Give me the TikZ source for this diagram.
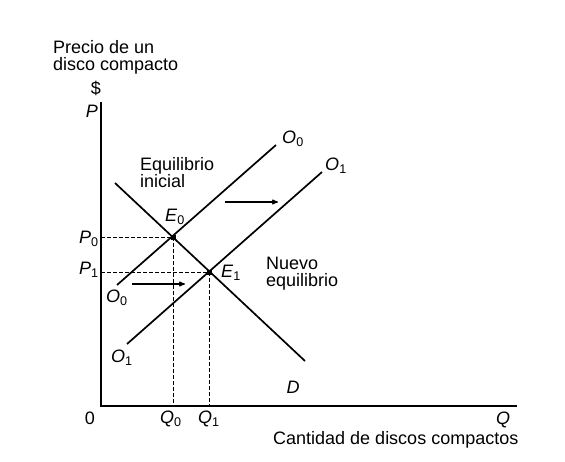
\documentclass[tikz,border=0pt]{standalone}
\usepackage{fontspec}
\setmainfont{Liberation Sans}
\usetikzlibrary{arrows,positioning}

\begin{document}
\begin{tikzpicture}[x=1pt,y=-1pt,>=stealth',
  axis/.style={line width=1.7pt},
  curve/.style={line width=1.7pt},
  guide/.style={line width=0.9pt,dash pattern=on 3.5pt off 2.5pt},
  shift arrow/.style={->,line width=1.1pt},
  lbl/.style={inner sep=0pt,font=\fontsize{18}{17}\selectfont},
  eq point/.style={fill=black,minimum size=5pt,inner sep=0pt}]
\useasboundingbox (0,0) rectangle (565,461);

% ejes
\coordinate (o) at (101,406);
\coordinate (ytop) at (101,102);
\coordinate (xend) at (517,406);
\draw[axis] (ytop) -- (o) -- (xend);

% equilibrios
\node[eq point] (e0) at (173,237) {};
\node[eq point] (e1) at (209,272) {};
\coordinate (p0) at (101,237);
\coordinate (p1) at (101,272);
\coordinate (q0) at (173,406);
\coordinate (q1) at (209,406);
\draw[guide] (p0) -- (e0.center) -- (q0);
\draw[guide] (p1) -- (e1.center) -- (q1);

% demanda y ofertas
\coordinate (d1) at (115,183);
\coordinate (d2) at (305,361);
\coordinate (o0a) at (117,285);
\coordinate (o0b) at (276,145);
\coordinate (o1a) at (127,344);
\coordinate (o1b) at (322,172);
\draw[curve] (d1) -- (d2);
\draw[curve] (o0a) -- (o0b);
\draw[curve] (o1a) -- (o1b);
\node[eq point] at (e0) {};
\node[eq point] at (e1) {};

% desplazamiento de la oferta
\coordinate (s1) at (225,202);
\coordinate (s2) at (278,202);
\coordinate (s3) at (132,284);
\coordinate (s4) at (185,284);
\draw[shift arrow] (s1) -- (s2);
\draw[shift arrow] (s3) -- (s4);

% textos
\node[lbl,anchor=west,align=left] (t1) at (53,57) {Precio de un\\disco compacto};
\node[lbl] (dol) at (96,88) {\$};
\node[lbl] (py) at (92,111) {\textit{P}};
\node[lbl] (lp0) at (89,239) {\textit{P}\textsubscript{0}};
\node[lbl] (lp1) at (89,270) {\textit{P}\textsubscript{1}};
\node[lbl] (zero) at (90,418) {0};
\node[lbl] (lq0) at (171,419) {\textit{Q}\textsubscript{0}};
\node[lbl] (lq1) at (209,419) {\textit{Q}\textsubscript{1}};
\node[lbl] (lq) at (503,420) {\textit{Q}};
\node[lbl,anchor=west] (t3) at (273,440) {Cantidad de discos compactos};
\node[lbl] (le0) at (175,217) {\textit{E}\textsubscript{0}};
\node[lbl] (le1) at (231,273) {\textit{E}\textsubscript{1}};
\node[lbl] (lo0a) at (293,139) {\textit{O}\textsubscript{0}};
\node[lbl] (lo1a) at (336,166) {\textit{O}\textsubscript{1}};
\node[lbl] (lo0b) at (117,298) {\textit{O}\textsubscript{0}};
\node[lbl] (lo1b) at (122,358) {\textit{O}\textsubscript{1}};
\node[lbl] (ld) at (293,387) {\textit{D}};
\node[lbl,anchor=west,align=left] (t4) at (140,173) {Equilibrio\\inicial};
\node[lbl,anchor=west,align=left] (t6) at (266,274) {Nuevo\\equilibrio};
\end{tikzpicture}
\end{document}
